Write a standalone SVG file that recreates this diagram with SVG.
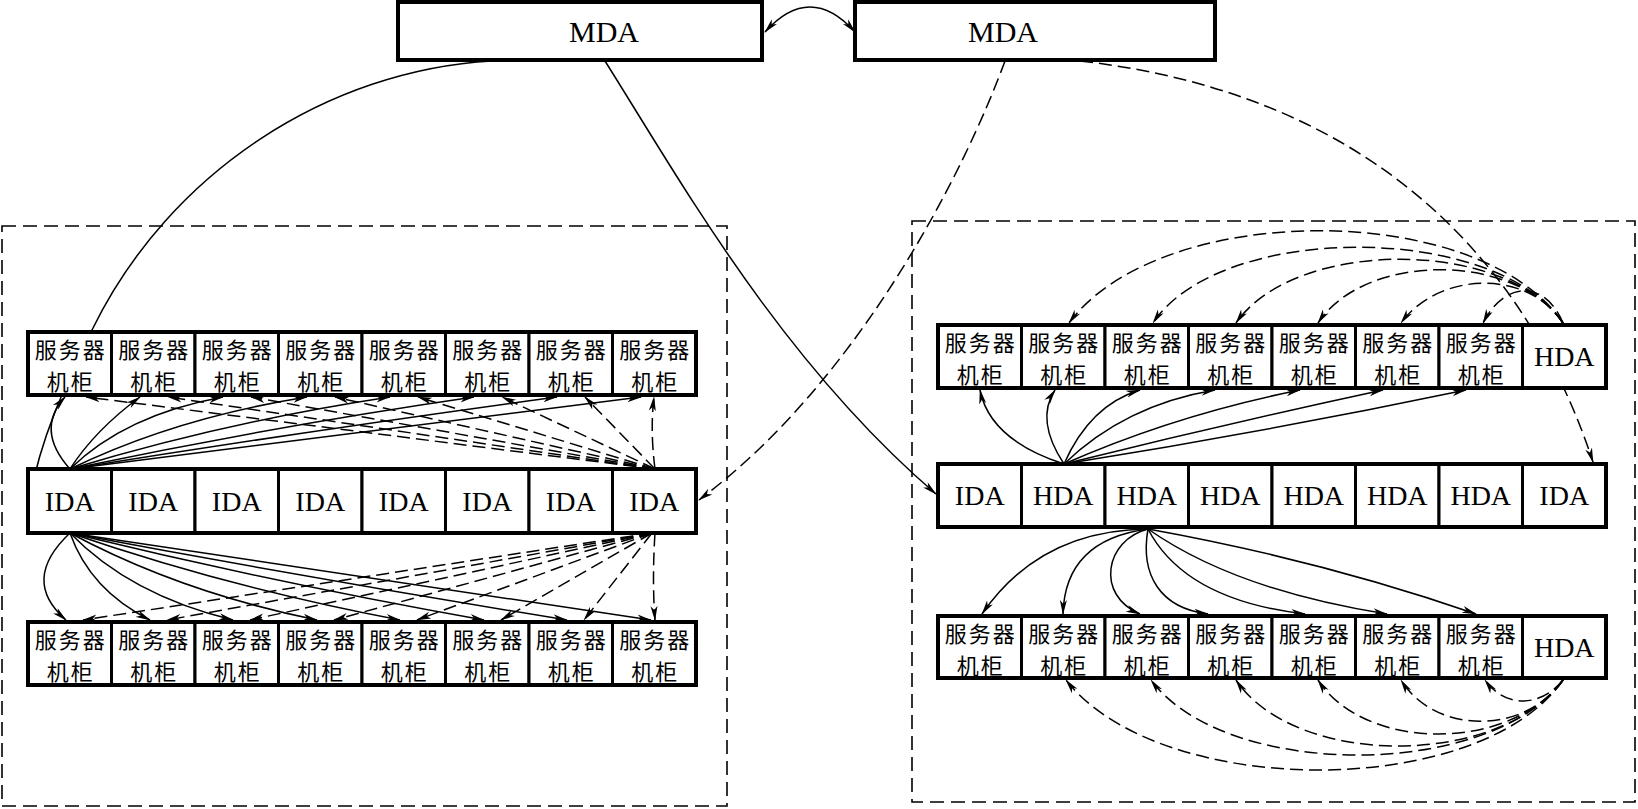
<svg xmlns="http://www.w3.org/2000/svg" width="1638" height="809" viewBox="0 0 1638 809">
<style>
.bg{fill:#fff}
.cell rect{fill:#fff;stroke:#000;stroke-width:3}
.frame{fill:none;stroke:#000;stroke-width:4}
.mda{fill:#fff;stroke:#000;stroke-width:4}
.cj{font-family:"Noto Sans CJK SC","Noto Sans CJK TC",sans-serif;font-size:22px;letter-spacing:2px;text-anchor:middle;fill:#000}
.lt{font-family:"Liberation Serif",serif;font-size:28px;text-anchor:middle;fill:#000}
.mt{font-family:"Liberation Serif",serif;font-size:30px;text-anchor:middle;fill:#000}
.zone{fill:none;stroke:#000;stroke-width:1.6;stroke-dasharray:14 7}
.s{fill:none;stroke:#000;stroke-width:1.5;marker-end:url(#ah)}
.d{fill:none;stroke:#000;stroke-width:1.5;stroke-dasharray:13 6;marker-end:url(#ah)}
</style>
<defs>
<marker id="ah" markerUnits="userSpaceOnUse" markerWidth="16" markerHeight="10" refX="14" refY="4" orient="auto-start-reverse" viewBox="0 0 16 8">
<path d="M0,0.5 L15,4 L0,7.5 L4,4 Z" fill="#000" stroke="none"/>
</marker>
</defs>
<rect class="bg" x="0" y="0" width="1638" height="809"/>

<g id="zones">
<rect class="zone" x="2" y="226" width="725" height="580"/>
<rect class="zone" x="912" y="221" width="723" height="581"/>
</g>

<g id="connectors">
<path class="s" d="M765,32 Q810,-18 855,32" style="marker-start:url(#ah)"/>
<path class="s" d="M492,61 C330,70 170,170 92,330 C65,385 40,440 30,498"/>
<path class="s" d="M605,61 C680,180 780,360 936,494"/>
<path class="d" d="M1005,61 C965,170 860,380 699,500"/>
<path class="d" d="M1080,61 C1380,95 1530,270 1593,462"/>

<path class="s" d="M70,469 Q35,430 65,397"/>
<path class="s" d="M70,469 Q95,430 140,397"/>
<path class="s" d="M70,469 Q125,415 223,397"/>
<path class="s" d="M70,469 Q175,418 307,397"/>
<path class="s" d="M70,469 Q225,422 390,397"/>
<path class="s" d="M70,469 Q275,426 474,397"/>
<path class="s" d="M70,469 Q320,429 557,397"/>
<path class="s" d="M70,469 Q360,432 641,397"/>
<path class="d" d="M655,469 L86,397"/>
<path class="d" d="M655,469 L168,397"/>
<path class="d" d="M655,469 L251,397"/>
<path class="d" d="M655,469 L335,397"/>
<path class="d" d="M655,469 L418,397"/>
<path class="d" d="M655,469 L502,397"/>
<path class="d" d="M655,469 L585,397"/>
<path class="d" d="M655,469 Q650,430 654,397"/>

<path class="s" d="M70,533 Q20,580 66,620"/>
<path class="s" d="M70,533 Q90,590 150,620"/>
<path class="s" d="M70,533 Q130,595 233,620"/>
<path class="s" d="M70,533 Q180,592 317,620"/>
<path class="s" d="M70,533 Q230,588 400,620"/>
<path class="s" d="M70,533 Q280,584 484,620"/>
<path class="s" d="M70,533 Q320,580 567,620"/>
<path class="s" d="M70,533 Q360,576 651,620"/>
<path class="d" d="M652,533 L83,620"/>
<path class="d" d="M652,533 L167,620"/>
<path class="d" d="M652,533 L250,620"/>
<path class="d" d="M652,533 L334,620"/>
<path class="d" d="M652,533 L417,620"/>
<path class="d" d="M652,533 L501,620"/>
<path class="d" d="M652,533 L584,620"/>
<path class="d" d="M655,533 Q652,580 655,620"/>

<path class="s" d="M1064,464 Q990,440 980,390"/>
<path class="s" d="M1064,464 Q1035,420 1055,390"/>
<path class="s" d="M1064,464 Q1090,405 1140,390"/>
<path class="s" d="M1064,464 Q1125,405 1215,390"/>
<path class="s" d="M1064,464 Q1175,415 1300,390"/>
<path class="s" d="M1064,464 Q1225,424 1383,390"/>
<path class="s" d="M1064,464 Q1265,432 1466,390"/>
<path class="d" d="M1563,323 C1480,200 1160,200 1069,323"/>
<path class="d" d="M1563,323 C1495,222 1220,222 1153,323"/>
<path class="d" d="M1563,323 C1505,238 1295,238 1236,323"/>
<path class="d" d="M1563,323 C1515,252 1365,252 1318,323"/>
<path class="d" d="M1563,323 C1530,270 1440,270 1401,323"/>
<path class="d" d="M1563,323 C1545,280 1505,280 1483,323"/>

<path class="s" d="M1148,529 Q1040,530 982,614"/>
<path class="s" d="M1148,529 Q1065,540 1063,614"/>
<path class="s" d="M1148,529 C1105,540 1095,595 1140,614"/>
<path class="s" d="M1148,529 C1140,575 1160,608 1208,614"/>
<path class="s" d="M1148,529 Q1185,600 1305,614"/>
<path class="s" d="M1148,529 Q1235,590 1387,614"/>
<path class="s" d="M1148,529 Q1320,560 1476,614"/>
<path class="d" d="M1563,680 C1480,800 1160,800 1066,680"/>
<path class="d" d="M1563,680 C1490,780 1225,780 1151,680"/>
<path class="d" d="M1563,680 C1500,768 1295,768 1236,680"/>
<path class="d" d="M1563,680 C1510,752 1365,752 1318,680"/>
<path class="d" d="M1563,680 C1525,735 1435,735 1401,680"/>
<path class="d" d="M1563,680 C1540,708 1505,708 1485,680"/>
</g>

<g id="mda-left"><rect class="mda" x="398" y="2" width="364" height="58"/><text class="mt" x="604" y="42">MDA</text></g>
<g id="mda-right"><rect class="mda" x="855" y="2" width="360" height="58"/><text class="mt" x="1003" y="42">MDA</text></g>

<g id="L-top-1" class="cell"><rect x="28" y="332" width="83.5" height="63"/><text class="cj" x="70.75" y="358">服务器<tspan x="70.75" dy="32">机柜</tspan></text></g>
<g id="L-top-2" class="cell"><rect x="111.5" y="332" width="83.5" height="63"/><text class="cj" x="154.25" y="358">服务器<tspan x="154.25" dy="32">机柜</tspan></text></g>
<g id="L-top-3" class="cell"><rect x="195" y="332" width="83.5" height="63"/><text class="cj" x="237.75" y="358">服务器<tspan x="237.75" dy="32">机柜</tspan></text></g>
<g id="L-top-4" class="cell"><rect x="278.5" y="332" width="83.5" height="63"/><text class="cj" x="321.25" y="358">服务器<tspan x="321.25" dy="32">机柜</tspan></text></g>
<g id="L-top-5" class="cell"><rect x="362" y="332" width="83.5" height="63"/><text class="cj" x="404.75" y="358">服务器<tspan x="404.75" dy="32">机柜</tspan></text></g>
<g id="L-top-6" class="cell"><rect x="445.5" y="332" width="83.5" height="63"/><text class="cj" x="488.25" y="358">服务器<tspan x="488.25" dy="32">机柜</tspan></text></g>
<g id="L-top-7" class="cell"><rect x="529" y="332" width="83.5" height="63"/><text class="cj" x="571.75" y="358">服务器<tspan x="571.75" dy="32">机柜</tspan></text></g>
<g id="L-top-8" class="cell"><rect x="612.5" y="332" width="83.5" height="63"/><text class="cj" x="655.25" y="358">服务器<tspan x="655.25" dy="32">机柜</tspan></text></g>
<rect class="frame" x="28" y="332" width="668" height="63"/>

<g id="L-mid-1" class="cell"><rect x="28" y="469" width="83.5" height="64"/><text class="lt" x="69.75" y="510.5">IDA</text></g>
<g id="L-mid-2" class="cell"><rect x="111.5" y="469" width="83.5" height="64"/><text class="lt" x="153.25" y="510.5">IDA</text></g>
<g id="L-mid-3" class="cell"><rect x="195" y="469" width="83.5" height="64"/><text class="lt" x="236.75" y="510.5">IDA</text></g>
<g id="L-mid-4" class="cell"><rect x="278.5" y="469" width="83.5" height="64"/><text class="lt" x="320.25" y="510.5">IDA</text></g>
<g id="L-mid-5" class="cell"><rect x="362" y="469" width="83.5" height="64"/><text class="lt" x="403.75" y="510.5">IDA</text></g>
<g id="L-mid-6" class="cell"><rect x="445.5" y="469" width="83.5" height="64"/><text class="lt" x="487.25" y="510.5">IDA</text></g>
<g id="L-mid-7" class="cell"><rect x="529" y="469" width="83.5" height="64"/><text class="lt" x="570.75" y="510.5">IDA</text></g>
<g id="L-mid-8" class="cell"><rect x="612.5" y="469" width="83.5" height="64"/><text class="lt" x="654.25" y="510.5">IDA</text></g>
<rect class="frame" x="28" y="469" width="668" height="64"/>

<g id="L-bot-1" class="cell"><rect x="28" y="622" width="83.5" height="63"/><text class="cj" x="70.75" y="648">服务器<tspan x="70.75" dy="32">机柜</tspan></text></g>
<g id="L-bot-2" class="cell"><rect x="111.5" y="622" width="83.5" height="63"/><text class="cj" x="154.25" y="648">服务器<tspan x="154.25" dy="32">机柜</tspan></text></g>
<g id="L-bot-3" class="cell"><rect x="195" y="622" width="83.5" height="63"/><text class="cj" x="237.75" y="648">服务器<tspan x="237.75" dy="32">机柜</tspan></text></g>
<g id="L-bot-4" class="cell"><rect x="278.5" y="622" width="83.5" height="63"/><text class="cj" x="321.25" y="648">服务器<tspan x="321.25" dy="32">机柜</tspan></text></g>
<g id="L-bot-5" class="cell"><rect x="362" y="622" width="83.5" height="63"/><text class="cj" x="404.75" y="648">服务器<tspan x="404.75" dy="32">机柜</tspan></text></g>
<g id="L-bot-6" class="cell"><rect x="445.5" y="622" width="83.5" height="63"/><text class="cj" x="488.25" y="648">服务器<tspan x="488.25" dy="32">机柜</tspan></text></g>
<g id="L-bot-7" class="cell"><rect x="529" y="622" width="83.5" height="63"/><text class="cj" x="571.75" y="648">服务器<tspan x="571.75" dy="32">机柜</tspan></text></g>
<g id="L-bot-8" class="cell"><rect x="612.5" y="622" width="83.5" height="63"/><text class="cj" x="655.25" y="648">服务器<tspan x="655.25" dy="32">机柜</tspan></text></g>
<rect class="frame" x="28" y="622" width="668" height="63"/>

<g id="R-top-1" class="cell"><rect x="938" y="325" width="83.5" height="63"/><text class="cj" x="980.75" y="351">服务器<tspan x="980.75" dy="32">机柜</tspan></text></g>
<g id="R-top-2" class="cell"><rect x="1021.5" y="325" width="83.5" height="63"/><text class="cj" x="1064.25" y="351">服务器<tspan x="1064.25" dy="32">机柜</tspan></text></g>
<g id="R-top-3" class="cell"><rect x="1105" y="325" width="83.5" height="63"/><text class="cj" x="1147.75" y="351">服务器<tspan x="1147.75" dy="32">机柜</tspan></text></g>
<g id="R-top-4" class="cell"><rect x="1188.5" y="325" width="83.5" height="63"/><text class="cj" x="1231.25" y="351">服务器<tspan x="1231.25" dy="32">机柜</tspan></text></g>
<g id="R-top-5" class="cell"><rect x="1272" y="325" width="83.5" height="63"/><text class="cj" x="1314.75" y="351">服务器<tspan x="1314.75" dy="32">机柜</tspan></text></g>
<g id="R-top-6" class="cell"><rect x="1355.5" y="325" width="83.5" height="63"/><text class="cj" x="1398.25" y="351">服务器<tspan x="1398.25" dy="32">机柜</tspan></text></g>
<g id="R-top-7" class="cell"><rect x="1439" y="325" width="83.5" height="63"/><text class="cj" x="1481.75" y="351">服务器<tspan x="1481.75" dy="32">机柜</tspan></text></g>
<g id="R-top-8" class="cell"><rect x="1522.5" y="325" width="83.5" height="63"/><text class="lt" x="1564.25" y="366">HDA</text></g>
<rect class="frame" x="938" y="325" width="668" height="63"/>

<g id="R-mid-1" class="cell"><rect x="938" y="464" width="83.5" height="63"/><text class="lt" x="979.75" y="505">IDA</text></g>
<g id="R-mid-2" class="cell"><rect x="1021.5" y="464" width="83.5" height="63"/><text class="lt" x="1063.25" y="505">HDA</text></g>
<g id="R-mid-3" class="cell"><rect x="1105" y="464" width="83.5" height="63"/><text class="lt" x="1146.75" y="505">HDA</text></g>
<g id="R-mid-4" class="cell"><rect x="1188.5" y="464" width="83.5" height="63"/><text class="lt" x="1230.25" y="505">HDA</text></g>
<g id="R-mid-5" class="cell"><rect x="1272" y="464" width="83.5" height="63"/><text class="lt" x="1313.75" y="505">HDA</text></g>
<g id="R-mid-6" class="cell"><rect x="1355.5" y="464" width="83.5" height="63"/><text class="lt" x="1397.25" y="505">HDA</text></g>
<g id="R-mid-7" class="cell"><rect x="1439" y="464" width="83.5" height="63"/><text class="lt" x="1480.75" y="505">HDA</text></g>
<g id="R-mid-8" class="cell"><rect x="1522.5" y="464" width="83.5" height="63"/><text class="lt" x="1564.25" y="505">IDA</text></g>
<rect class="frame" x="938" y="464" width="668" height="63"/>

<g id="R-bot-1" class="cell"><rect x="938" y="616" width="83.5" height="62"/><text class="cj" x="980.75" y="642">服务器<tspan x="980.75" dy="32">机柜</tspan></text></g>
<g id="R-bot-2" class="cell"><rect x="1021.5" y="616" width="83.5" height="62"/><text class="cj" x="1064.25" y="642">服务器<tspan x="1064.25" dy="32">机柜</tspan></text></g>
<g id="R-bot-3" class="cell"><rect x="1105" y="616" width="83.5" height="62"/><text class="cj" x="1147.75" y="642">服务器<tspan x="1147.75" dy="32">机柜</tspan></text></g>
<g id="R-bot-4" class="cell"><rect x="1188.5" y="616" width="83.5" height="62"/><text class="cj" x="1231.25" y="642">服务器<tspan x="1231.25" dy="32">机柜</tspan></text></g>
<g id="R-bot-5" class="cell"><rect x="1272" y="616" width="83.5" height="62"/><text class="cj" x="1314.75" y="642">服务器<tspan x="1314.75" dy="32">机柜</tspan></text></g>
<g id="R-bot-6" class="cell"><rect x="1355.5" y="616" width="83.5" height="62"/><text class="cj" x="1398.25" y="642">服务器<tspan x="1398.25" dy="32">机柜</tspan></text></g>
<g id="R-bot-7" class="cell"><rect x="1439" y="616" width="83.5" height="62"/><text class="cj" x="1481.75" y="642">服务器<tspan x="1481.75" dy="32">机柜</tspan></text></g>
<g id="R-bot-8" class="cell"><rect x="1522.5" y="616" width="83.5" height="62"/><text class="lt" x="1564.25" y="656.5">HDA</text></g>
<rect class="frame" x="938" y="616" width="668" height="62"/>
</svg>
